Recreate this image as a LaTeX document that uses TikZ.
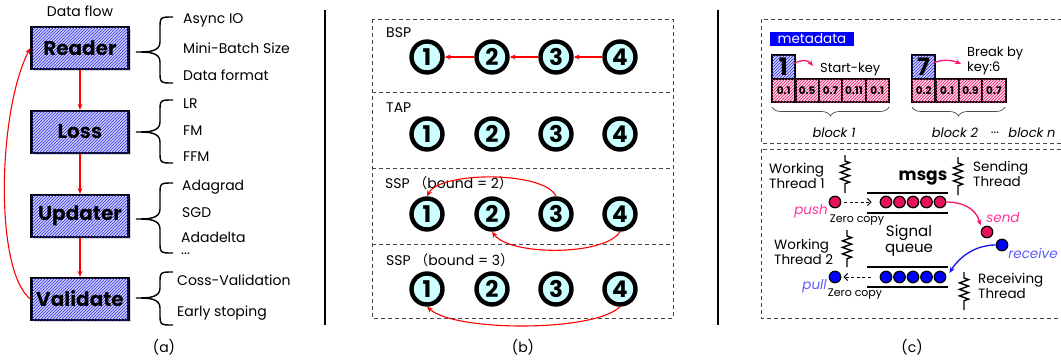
\documentclass[tikz,border=0pt]{standalone}
\usepackage{fontspec}
\setmainfont{Poppins}
\newfontfamily\cjk{Noto Sans CJK SC}
\usetikzlibrary{patterns,arrows.meta,decorations.pathreplacing,decorations.pathmorphing,shadows,calc}
\definecolor{redc}{RGB}{255,0,0}
\definecolor{cyanfill}{RGB}{204,255,255}
\definecolor{boxblue}{RGB}{205,205,255}
\definecolor{hatchblue}{RGB}{50,50,220}
\definecolor{cellpink}{RGB}{255,205,225}
\definecolor{hatchpink}{RGB}{225,40,110}
\definecolor{pinkdot}{RGB}{232,18,92}
\definecolor{pinktext}{RGB}{255,51,153}
\definecolor{pinkarr}{RGB}{250,20,110}
\definecolor{bluedot}{RGB}{0,0,255}
\definecolor{bluetext}{RGB}{90,90,255}
\definecolor{bluearr}{RGB}{20,20,240}
\definecolor{dashgray}{RGB}{70,70,70}
\newcommand\fsItem{\fontsize{14}{14}\selectfont}
\newcommand\mybracecmd[4]{%
  \draw[bracestyle] ({#1+37},#2) .. controls ({#1+24},#2) .. ({#1+24},{#2+12})
     -- ({#1+24},{#3-10}) .. controls ({#1+24},#3) and ({#1+12},#3) .. (#1,#3)
     .. controls ({#1+12},#3) and ({#1+24},#3) .. ({#1+24},{#3+10})
     -- ({#1+24},{#4-12}) .. controls ({#1+24},#4) .. ({#1+37},#4);}
\tikzset{
  flowbox/.style={draw=black, line width=2.4pt, fill=boxblue,
    postaction={pattern=north east lines, pattern color=hatchblue},
    minimum width=97, minimum height=42, inner sep=0,
    font=\bfseries\fontsize{20}{20}\selectfont,
    drop shadow={shadow xshift=2pt, shadow yshift=-2pt, opacity=.3}},
  redarrow/.style={draw=redc, line width=1.1pt, -{Stealth[length=6pt,width=5pt]}},
  bracestyle/.style={draw=black, line width=1.4pt},
  item/.style={anchor=west, inner sep=0, font=\fsItem},
  captxt/.style={inner sep=0, font=\fsItem},
  dashbox/.style={draw=dashgray, line width=1pt, dash pattern=on 4pt off 3pt},
  wnode/.style={circle, draw=black, line width=4.4pt, fill=cyanfill, minimum size=31,
    inner sep=0, font=\bfseries\fontsize{23}{23}\selectfont,
    drop shadow={shadow xshift=1.5pt, shadow yshift=-1.5pt, opacity=.35}},
  keybox/.style={draw=black, line width=2.2pt, fill=boxblue,
    postaction={pattern=north east lines, pattern color=hatchblue},
    minimum width=23, minimum height=24, inner sep=0,
    font=\bfseries\fontsize{24}{24}\selectfont},
  valbox/.style={draw=black, line width=2.2pt, fill=cellpink,
    postaction={pattern=north east lines, pattern color=hatchpink},
    minimum width=23.4, minimum height=23, inner sep=0,
    font=\bfseries\fontsize{10.5}{10.5}\selectfont},
  pinkarrow/.style={draw=pinkarr, line width=1.3pt, -{Stealth[length=6pt,width=5pt]}},
  bluearrow/.style={draw=bluearr, line width=1.3pt, -{Stealth[length=6pt,width=5pt]}},
  dasharr/.style={draw=black, line width=1pt, dash pattern=on 3pt off 2.5pt,
    -{Straight Barb[length=3.5pt,width=7pt]}},
  spring/.style={draw=black, line width=1.4pt, decorate,
    decoration={zigzag, segment length=6.5pt, amplitude=4.5pt, pre length=6pt, post length=8pt}},
  qline/.style={draw=black, line width=2.6pt},
  pdot/.style={circle, draw=black, line width=1.2pt, fill=pinkdot, minimum size=11.5, inner sep=0},
  bdot/.style={circle, draw=black, line width=1.2pt, fill=bluedot, minimum size=11.5, inner sep=0},
  thr/.style={anchor=west, align=left, inner sep=0, font=\fontsize{13.5}{12.5}\selectfont},
  ital/.style={inner sep=0, font=\itshape\fontsize{13.5}{13.5}\selectfont},
}
\begin{document}
\begin{tikzpicture}[x=1pt,y=-1pt]
\useasboundingbox (0,0) rectangle (1061,360);
% ---------------- (a) ----------------
\node[captxt] (dflow) at (80,11) {Data flow};
\node[flowbox] (reader) at (80,48) {Reader};
\node[flowbox] (loss) at (80,132) {Loss};
\node[flowbox] (updater) at (80,216) {Updater};
\node[flowbox] (validate) at (80,299) {Validate};
\draw[redarrow] (reader) -- (loss);
\draw[redarrow] (loss) -- (updater);
\draw[redarrow] (updater) -- (validate);
\draw[redarrow] (validate.west) .. controls (-6,270) and (-2,110) .. (reader.west);
\mybracecmd{136}{17}{52}{83}
\mybracecmd{136}{100}{132}{163}
\mybracecmd{136}{183}{219}{253}
\mybracecmd{136}{272}{298}{325}
\node[item] (r1) at (183,20) {Async IO};
\node[item] (r2) at (183,48) {Mini-Batch Size};
\node[item] (r3) at (183,75) {Data format};
\node[item] (l1) at (183,104) {LR};
\node[item] (l2) at (183,131) {FM};
\node[item] (l3) at (183,157) {FFM};
\node[item] (u1) at (182,187) {Adagrad};
\node[item] (u2) at (182,213) {SGD};
\node[item] (u3) at (181,237) {Adadelta};
\node[item] (u4) at (181,254) {...};
\node[item] (v1) at (177,280) {Coss-Validation};
\node[item] (v2) at (177,313) {Early stoping};
\node[captxt] (capa) at (164,347) {(a)};
\draw[line width=1.1pt] (325,10) -- (325,325);
\draw[line width=1.1pt] (718,10) -- (718,325);
% ---------------- (b) ----------------
\draw[dashbox] (372,19) rectangle (673,318);
\draw[dashbox] (372,92) -- (673,92);
\draw[dashbox] (372,168) -- (673,168);
\draw[dashbox] (372,244) -- (673,244);
\node[item] (bsp) at (386,33) {BSP};
\node[item] (tap) at (386,108) {TAP};
\node[item] (ssp2) at (385,183) {SSP {\cjk （}bound = 2{\cjk ）}};
\node[item] (ssp3) at (386,260) {SSP {\cjk （}bound = 3{\cjk ）}};
\foreach \r/\yy in {1/57,2/134,3/214,4/289}{
  \node[wnode] (b\r1) at (427,\yy) {1};
  \node[wnode] (b\r2) at (492,\yy) {2};
  \node[wnode] (b\r3) at (556,\yy) {3};
  \node[wnode] (b\r4) at (620,\yy) {4};
}
\draw[redarrow] (b14) -- (b13);
\draw[redarrow] (b13) -- (b12);
\draw[redarrow] (b12) -- (b11);
\draw[redarrow] (b33.north) .. controls (545,171) and (440,171) .. (b31.north);
\draw[redarrow] (b34.south) .. controls (605,256) and (510,256) .. (b32.south);
\draw[redarrow] (b44.south) .. controls (595,332) and (455,332) .. (b41.south);
\node[captxt] (capb) at (523,347) {(b)};
% ---------------- (c) ----------------
\draw[dashbox] (761,19) rectangle (1064,143);
\draw[dashbox] (761,149) rectangle (1064,318);
\node[fill=bluedot, text=white, minimum width=84, minimum height=14, inner sep=0,
  font=\fontsize{13.5}{13.5}\selectfont] (meta) at (812,39) {metadata};
\node[keybox] (k1) at (783.5,67) {1};
\node[keybox] (k7) at (923.5,67) {7};
\node[valbox] (c11) at (783.7,90.5) {0.1};
\node[valbox] (c12) at (807.1,90.5) {0.5};
\node[valbox] (c13) at (830.5,90.5) {0.7};
\node[valbox] (c14) at (853.9,90.5) {0.11};
\node[valbox] (c15) at (877.3,90.5) {0.1};
\node[valbox] (c21) at (923.7,90.5) {0.2};
\node[valbox] (c22) at (947.1,90.5) {0.1};
\node[valbox] (c23) at (970.5,90.5) {0.9};
\node[valbox] (c24) at (993.9,90.5) {0.7};
\node[anchor=west, inner sep=0, font=\fontsize{13}{13}\selectfont] (sk) at (820,69) {Start-key};
\node[anchor=west, align=left, inner sep=0, font=\fontsize{13}{15}\selectfont] (bk) at (967,61) {Break by\\key:6};
\coordinate (skarr) at (813,66);
\coordinate (bkarr) at (961,64);
\draw[pinkarrow] ([xshift=-3pt,yshift=3pt]k1.east) .. controls (802,59) and (808,60) .. (skarr);
\draw[pinkarrow] ([xshift=-3pt,yshift=4pt]k7.east) .. controls (942,59) and (952,60) .. (bkarr);
\draw[draw=black!70, line width=0.7pt, decorate, decoration={brace, amplitude=9pt}] (889,107) -- (772,107);
\draw[draw=black!70, line width=0.7pt, decorate, decoration={brace, amplitude=9pt}] (1005,107) -- (912,107);
\node[inner sep=0, font=\itshape\fontsize{13}{13}\selectfont] (bl1) at (834,133) {block 1};
\node[inner sep=0, font=\itshape\fontsize{13}{13}\selectfont] (bl2) at (955,133) {block 2};
\node[inner sep=0, font=\fontsize{13}{13}\selectfont] (bldots) at (995,133) {...};
\node[inner sep=0, font=\itshape\fontsize{13}{13}\selectfont] (bln) at (1032,133) {block n};
% threads
\node[thr] (wt1) at (769,176) {Working\\Thread 1};
\node[thr] (st) at (973,174) {Sending\\Thread};
\node[thr] (wt2) at (774,252) {Working\\Thread 2};
\node[thr] (rt) at (978,286) {Receiving\\Thread};
\node[inner sep=0, font=\bfseries\fontsize{17}{17}\selectfont] (msgs) at (923,178) {msgs};
\node[inner sep=0, align=center, font=\fontsize{15}{16}\selectfont] (sq) at (909,241) {Signal\\queue};
\draw[spring] (845,155) -- (845,193);
\draw[spring] (958,157) -- (958,195);
\draw[spring] (847,230) -- (847,267);
\draw[spring] (964,272) -- (964,310);
\draw[qline] (867,193) -- (948,193);
\draw[qline] (867,213) -- (948,213);
\draw[qline] (867,267) -- (948,267);
\draw[qline] (867,287) -- (948,287);
\foreach \n/\xx in {a/886,b/899.5,c/913,d/926.5,e/940}{
  \node[pdot] (q1\n) at (\xx,202) {};
  \node[bdot] (q2\n) at (\xx,277) {};
}
\node[pdot] (pushdot) at (835,202) {};
\node[bdot] (pulldot) at (835,277) {};
\node[pdot] (sendot) at (987,232) {};
\node[bdot] (recdot) at (1002,245) {};
\draw[dasharr] ([xshift=3pt]pushdot.east) -- ([xshift=-8pt]q1a.west);
\draw[dasharr] ([xshift=-9pt]q2a.west) -- ([xshift=2pt]pulldot.east);
\draw[pinkarrow] (q1e.east) .. controls (962,202) and (976,208) .. ([xshift=-2pt,yshift=2pt]sendot.north west);
\draw[bluearrow] (recdot.west) .. controls (976,245) and (960,256) .. ([xshift=3pt,yshift=4pt]q2e.east);
\node[ital, text=pinktext, anchor=east] (push) at (828,211) {push};
\node[ital, text=pinktext] (send) at (1003,218) {send};
\node[ital, text=bluetext] (recv) at (1033,253) {receive};
\node[ital, text=bluetext, anchor=east] (pull) at (827,286) {pull};
\node[inner sep=0, font=\fontsize{11}{11}\selectfont] (zc1) at (857,220) {Zero copy};
\node[inner sep=0, font=\fontsize{11}{11}\selectfont] (zc2) at (855,294) {Zero copy};
\node[captxt] (capc) at (912,347) {(c)};
\end{tikzpicture}
\end{document}
